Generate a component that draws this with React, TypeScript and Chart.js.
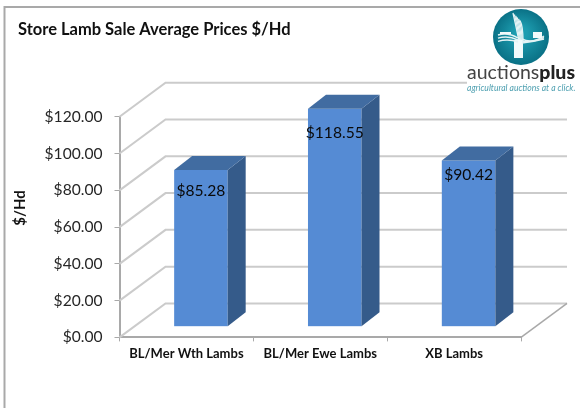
import React, { useEffect, useRef } from "react";
import { Chart, registerables } from "chart.js";

Chart.register(...registerables);

const categories = ["BL/Mer Wth Lambs", "BL/Mer Ewe Lambs", "XB Lambs"];
const prices = [85.28, 118.55, 90.42];
const chartTitle = "Store Lamb Sale Average Prices $/Hd";
const yAxisTitle = "$/Hd";
const labelDrops = [21, 24, 14];

const FONT = "Lato, Carlito, sans-serif";
const WALL_DX = 46;
const WALL_DY = -34;
const BAR_DX = 14.5;
const BAR_DY = -10.7;
const SIDE_DX = 18;
const SIDE_DY = -14;

const poly = (ctx: CanvasRenderingContext2D, pts: number[][], fill: string) => {
  ctx.beginPath();
  pts.forEach((p, i) => (i ? ctx.lineTo(p[0], p[1]) : ctx.moveTo(p[0], p[1])));
  ctx.closePath();
  ctx.fillStyle = fill;
  ctx.fill();
};

const drawLogo = (ctx: CanvasRenderingContext2D) => {
  ctx.save();
  ctx.fillStyle = "#ffffff";
  ctx.fillRect(467, 9, 113, 88);
  const cx = 521;
  const cy = 37;
  const g = ctx.createRadialGradient(cx, cy - 4, 6, cx, cy, 28);
  g.addColorStop(0, "#1d9db0");
  g.addColorStop(1, "#0a7186");
  ctx.fillStyle = g;
  ctx.beginPath();
  ctx.arc(cx, cy, 28, 0, Math.PI * 2);
  ctx.fill();
  // wheat and landscape emblem
  ctx.strokeStyle = "#e4f3f5";
  ctx.lineWidth = 1.3;
  for (let i = 0; i < 6; i++) {
    ctx.beginPath();
    ctx.moveTo(519 + i * 0.8, 41);
    ctx.quadraticCurveTo(516 + i * 1.4, 26, 513 + i * 1.4, 13 + i * 1.5);
    ctx.stroke();
  }
  ctx.fillStyle = "#f2fafb";
  ctx.fillRect(514, 40, 9, 18);
  ctx.lineWidth = 1.4;
  for (let i = 0; i < 3; i++) {
    ctx.beginPath();
    ctx.moveTo(498, 35 + i * 3.2);
    ctx.quadraticCurveTo(508, 32 + i * 3.2, 518, 38 + i * 2);
    ctx.stroke();
    ctx.beginPath();
    ctx.moveTo(522, 39 + i * 2);
    ctx.quadraticCurveTo(532, 44 - i, 544, 36 + i * 1.5);
    ctx.stroke();
  }
  ctx.fillRect(500, 32, 11, 2);
  ctx.fillRect(533, 32, 9, 6);
  ctx.textBaseline = "alphabetic";
  ctx.textAlign = "left";
  ctx.font = `400 19.5px ${FONT}`;
  ctx.fillStyle = "#444444";
  ctx.fillText("auctions", 467, 79);
  const w = ctx.measureText("auctions").width;
  ctx.font = `900 19.5px ${FONT}`;
  ctx.fillStyle = "#222222";
  ctx.fillText("plus", 467 + w, 79);
  ctx.font = `italic 400 8.6px ${FONT}`;
  ctx.fillStyle = "#4d9fb0";
  ctx.fillText("agricultural auctions at a click.", 467, 91);
  ctx.restore();
};

const scene3d = {
  id: "scene3d",
  beforeDraw(chart: any) {
    const { ctx, width, height } = chart;
    ctx.save();
    ctx.fillStyle = "#ffffff";
    ctx.fillRect(0, 0, width, height);
    ctx.strokeStyle = "#a9a9a9";
    ctx.lineWidth = 2;
    ctx.beginPath();
    ctx.moveTo(4.5, height);
    ctx.lineTo(4.5, 7);
    ctx.lineTo(width, 7);
    ctx.stroke();
    ctx.restore();
  },
  beforeDatasetsDraw(chart: any) {
    const { ctx, scales } = chart;
    const { left, right, bottom } = chart.chartArea;
    ctx.save();
    ctx.strokeStyle = "#cbcbcb";
    ctx.lineWidth = 2;
    scales.y.ticks.forEach((t: any) => {
      const y = scales.y.getPixelForValue(t.value);
      if (t.value === 0) return;
      ctx.beginPath();
      ctx.moveTo(left, y);
      ctx.lineTo(left + WALL_DX, y + WALL_DY);
      ctx.lineTo(right + WALL_DX, y + WALL_DY);
      ctx.stroke();
    });
    ctx.beginPath();
    ctx.moveTo(left, bottom);
    ctx.lineTo(left + WALL_DX, bottom + WALL_DY);
    ctx.lineTo(right + WALL_DX, bottom + WALL_DY);
    ctx.stroke();
    ctx.strokeStyle = "#a9a9a9";
    ctx.lineWidth = 1.5;
    ctx.beginPath();
    ctx.moveTo(right, bottom);
    ctx.lineTo(right + WALL_DX, bottom + WALL_DY);
    ctx.stroke();
    ctx.restore();
  },
  beforeDatasetDraw(chart: any) {
    chart.ctx.save();
    chart.ctx.translate(BAR_DX, BAR_DY);
  },
  afterDatasetDraw(chart: any) {
    chart.ctx.restore();
  },
  afterDatasetsDraw(chart: any) {
    const { ctx } = chart;
    const meta = chart.getDatasetMeta(0);
    ctx.save();
    meta.data.forEach((bar: any, i: number) => {
      const l = bar.x - bar.width / 2 + BAR_DX;
      const r = bar.x + bar.width / 2 + BAR_DX;
      const t = bar.y + BAR_DY;
      const b = bar.base + BAR_DY;
      poly(ctx, [[r, t], [r + SIDE_DX, t + SIDE_DY], [r + SIDE_DX, b + SIDE_DY], [r, b]], "#355b8a");
      poly(ctx, [[l, t], [l + SIDE_DX, t + SIDE_DY], [r + SIDE_DX, t + SIDE_DY], [r, t]], "#416ca1");
      ctx.font = `400 15.6px ${FONT}`;
      ctx.fillStyle = "#0a0a0a";
      ctx.textAlign = "center";
      ctx.textBaseline = "middle";
      ctx.fillText(`$${prices[i].toFixed(2)}`, (l + r) / 2, t + labelDrops[i]);
    });
    ctx.translate(20.5, 208);
    ctx.rotate(-Math.PI / 2);
    ctx.font = `700 15px ${FONT}`;
    ctx.fillStyle = "#111111";
    ctx.textAlign = "center";
    ctx.textBaseline = "middle";
    ctx.fillText(yAxisTitle, 0, 0);
    ctx.restore();
  },
  afterDraw(chart: any) {
    drawLogo(chart.ctx);
  },
};

export default function App() {
  const ref = useRef<HTMLCanvasElement>(null);
  useEffect(() => {
    document.body.style.margin = "0";
    const chart = new Chart(ref.current!, {
      type: "bar",
      data: {
        labels: categories,
        datasets: [
          {
            data: prices,
            backgroundColor: "#558bd4",
            borderWidth: 0,
            barPercentage: 0.8,
            categoryPercentage: 0.5,
          },
        ],
      },
      plugins: [scene3d],
      options: {
        responsive: false,
        animation: false,
        events: [],
        layout: { padding: { left: 18, right: 59, top: 0, bottom: 0 } },
        plugins: {
          legend: { display: false },
          tooltip: { enabled: false },
          title: {
            display: true,
            text: chartTitle,
            align: "start",
            color: "#111111",
            font: { family: FONT, size: 16.5, weight: "bold" },
            padding: { top: 20, bottom: 77 },
          },
        },
        scales: {
          x: {
            afterFit: (s: any) => {
              s.height = 70.6;
            },
            grid: { drawOnChartArea: false, drawTicks: true, tickLength: 4, color: "#a9a9a9", lineWidth: 1 },
            border: { color: "#a9a9a9", width: 2 },
            ticks: {
              color: "#111111",
              padding: 5,
              maxRotation: 0,
              font: { family: FONT, size: 13, weight: "bold" },
            },
          },
          y: {
            min: 0,
            max: 120,
            afterFit: (s: any) => {
              s.width = 101.5;
            },
            grid: { drawOnChartArea: false, drawTicks: true, tickLength: 5, color: "#a9a9a9", lineWidth: 1 },
            border: { color: "#a9a9a9", width: 2 },
            ticks: {
              stepSize: 20,
              color: "#262626",
              padding: 12,
              font: { family: FONT, size: 15.6 },
              callback: (v: any) => `$${Number(v).toFixed(2)}`,
            },
          },
        },
      },
    } as any);
    return () => chart.destroy();
  }, []);
  return (
    <div style={{ width: 580, height: 408 }}>
      <canvas ref={ref} width={580} height={408} style={{ display: "block" }} />
    </div>
  );
}
